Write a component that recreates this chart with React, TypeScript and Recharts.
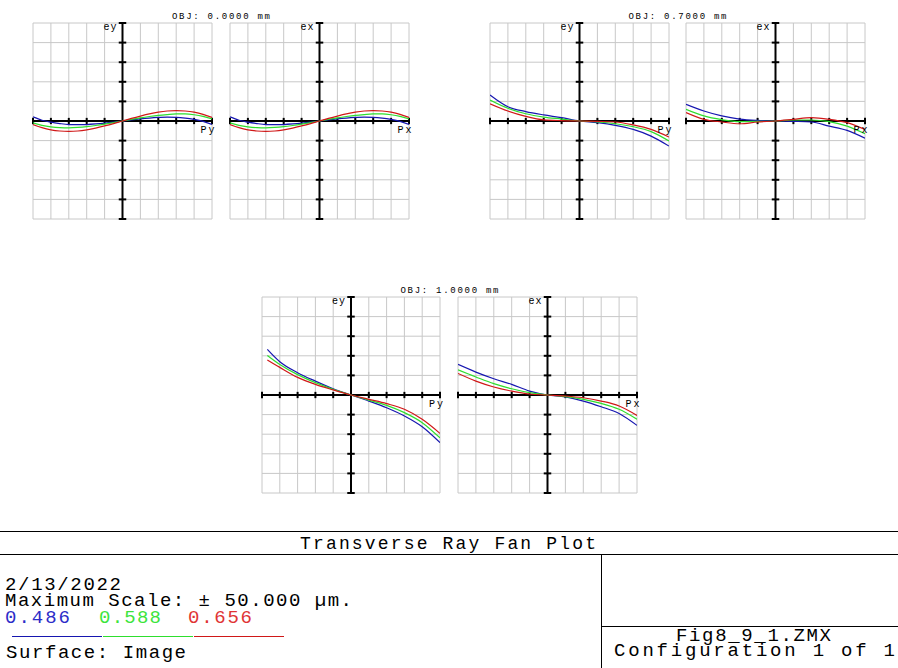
import React from "react";
import { LineChart, Line, XAxis, YAxis, CartesianGrid, ReferenceLine } from "recharts";

// ---------- data (µm transverse aberration vs normalized pupil coordinate) ----------
const pupilFine = [-1, -0.9, -0.8, -0.7, -0.6, -0.5, -0.4, -0.3, -0.2, -0.1, 0, 0.1, 0.2, 0.3, 0.4, 0.5, 0.6, 0.7, 0.8, 0.9, 1];
const pupilCoarse = [-1, -0.8, -0.6, -0.4, -0.2, 0, 0.2, 0.4, 0.6, 0.8, 1];
const pupilVignetted = [-0.94, -0.8, -0.6, -0.4, -0.2, 0, 0.2, 0.4, 0.6, 0.8, 1];

// OBJ 0.0000 mm (tangential and sagittal identical on axis)
const obj0Blue = [2.1, 0.4, -0.6, -1.3, -1.8, -1.9, -1.8, -1.5, -1.1, -0.6, 0, 0.6, 1.1, 1.5, 1.8, 2.0, 1.9, 1.5, 0.8, -0.2, -1.7];
const obj0Green = [-0.9, -2.2, -3.0, -3.4, -3.5, -3.3, -2.9, -2.3, -1.6, -0.8, 0, 0.8, 1.6, 2.3, 2.9, 3.3, 3.6, 3.6, 3.2, 2.4, 1.1];
const obj0Red = [-1.8, -3.4, -4.5, -5.1, -5.3, -5.1, -4.5, -3.6, -2.5, -1.3, 0, 1.3, 2.5, 3.6, 4.5, 5.1, 5.3, 5.1, 4.5, 3.4, 1.8];

// OBJ 0.7000 mm
const obj07TanBlue = [13.3, 7.3, 4.8, 3.1, 1.7, 0, -0.85, -2.2, -4.3, -7.7, -12.8];
const obj07TanGreen = [10.7, 6.5, 3.7, 2.0, 1.0, 0, -0.5, -1.4, -2.9, -5.4, -10.2];
const obj07TanRed = [8.8, 5.1, 2.4, 0.6, 0.2, 0, -0.2, -0.5, -2.0, -4.3, -8.2];
const obj07SagBlue = [8.5, 5.1, 2.6, 1.0, 0.3, 0, -0.2, -0.5, -2.6, -4.8, -8.8];
const obj07SagGreen = [6.0, 2.6, 0.7, -0.3, -0.2, 0, 0.5, 0.5, -0.3, -2.6, -6.5];
const obj07SagRed = [4.3, 0.85, -0.5, -1.4, -0.5, 0, 0.85, 1.7, 0.85, -0.85, -4.3];

// OBJ 1.0000 mm
const obj10TanBlue = [23.3, 17.0, 11.4, 7.1, 3.2, 0, -3.1, -6.5, -10.7, -16.2, -24.3];
const obj10TanGreen = [20.2, 15.6, 10.4, 6.3, 2.9, 0, -2.6, -5.3, -9.0, -14.1, -21.9];
const obj10TanRed = [17.9, 14.1, 9.0, 5.4, 2.6, 0, -2.2, -4.4, -7.3, -12.4, -19.6];
const obj10SagBlue = [15.6, 11.7, 8.3, 5.4, 2.0, 0, -1.0, -3.1, -6.0, -9.4, -15.5];
const obj10SagGreen = [12.8, 9.2, 5.8, 3.2, 1.2, 0, -0.85, -2.2, -4.3, -7.3, -12.4];
const obj10SagRed = [11.0, 7.1, 4.1, 2.0, 0.5, 0, -0.5, -1.4, -3.1, -5.6, -10.4];

const gridX = [-1, -0.8, -0.6, -0.4, -0.2, 0, 0.2, 0.4, 0.6, 0.8, 1];
const gridY = [-50, -40, -30, -20, -10, 0, 10, 20, 30, 40, 50];

const wavelengths = ["0.486", "0.588", "0.656"];
const fieldTitles = ["OBJ: 0.0000 mm", "OBJ: 0.7000 mm", "OBJ: 1.0000 mm"];

// ---------- styling ----------
const BLUE = "#1616b0";
const GREEN = "#2ede2e";
const RED = "#d01818";
const LEGEND_COLORS = ["#2c2cc8", "#3ce43c", "#e03434"];
const FONT = "'Liberation Mono', 'Courier New', monospace";

type PanelCfg = {
  left: number; top: number; w: number; h: number;
  pupil: number[]; blue: number[]; green: number[]; red: number[];
  yLabel: string; xLabel: string;
};

const panels: PanelCfg[] = [
  { left: 33, top: 23, w: 179, h: 196, pupil: pupilFine, blue: obj0Blue, green: obj0Green, red: obj0Red, yLabel: "ey", xLabel: "Py" },
  { left: 230, top: 23, w: 179, h: 196, pupil: pupilFine, blue: obj0Blue, green: obj0Green, red: obj0Red, yLabel: "ex", xLabel: "Px" },
  { left: 490, top: 23, w: 179, h: 196, pupil: pupilCoarse, blue: obj07TanBlue, green: obj07TanGreen, red: obj07TanRed, yLabel: "ey", xLabel: "Py" },
  { left: 686, top: 23, w: 179, h: 196, pupil: pupilCoarse, blue: obj07SagBlue, green: obj07SagGreen, red: obj07SagRed, yLabel: "ex", xLabel: "Px" },
  { left: 262, top: 297, w: 178, h: 196, pupil: pupilVignetted, blue: obj10TanBlue, green: obj10TanGreen, red: obj10TanRed, yLabel: "ey", xLabel: "Py" },
  { left: 458, top: 297, w: 179, h: 196, pupil: pupilCoarse, blue: obj10SagBlue, green: obj10SagGreen, red: obj10SagRed, yLabel: "ex", xLabel: "Px" },
];

function FanPlot({ cfg }: { cfg: PanelCfg }) {
  const data = cfg.pupil.map((p, i) => ({ p, b: cfg.blue[i], g: cfg.green[i], r: cfg.red[i] }));
  const tickHalfY = 1.6; // µm (~3px)
  const tickHalfX = 0.042; // pupil units (~4px)
  return (
    <div style={{ position: "absolute", left: cfg.left - 1, top: cfg.top - 1 }}>
      <LineChart width={cfg.w + 2} height={cfg.h + 2} data={data} margin={{ top: 1, right: 1, bottom: 1, left: 1 }}>
        <CartesianGrid stroke="#c8c8c8" strokeWidth={1} />
        <XAxis type="number" dataKey="p" domain={[-1, 1]} ticks={gridX} interval={0} hide allowDataOverflow />
        <YAxis type="number" domain={[-50, 50]} ticks={gridY} interval={0} hide allowDataOverflow />
        <ReferenceLine x={0} stroke="#000" strokeWidth={2} />
        <ReferenceLine y={0} stroke="#000" strokeWidth={2} />
        {gridX.filter((t) => t !== 0).map((t) => (
          <ReferenceLine key={"tx" + t} segment={[{ x: t, y: tickHalfY }, { x: t, y: -tickHalfY }]} stroke="#000" strokeWidth={2} ifOverflow="visible" />
        ))}
        {gridY.filter((t) => t !== 0).map((t) => (
          <ReferenceLine key={"ty" + t} segment={[{ x: -tickHalfX, y: t }, { x: tickHalfX, y: t }]} stroke="#000" strokeWidth={2} ifOverflow="visible" />
        ))}
        <Line type="monotone" dataKey="b" stroke={BLUE} strokeWidth={1.2} dot={false} isAnimationActive={false} />
        <Line type="monotone" dataKey="g" stroke={GREEN} strokeWidth={1.2} dot={false} isAnimationActive={false} />
        <Line type="monotone" dataKey="r" stroke={RED} strokeWidth={1.2} dot={false} isAnimationActive={false} />
      </LineChart>
    </div>
  );
}

export default function App() {
  const titleCenters = [
    (panels[0].left + panels[1].left + panels[1].w) / 2,
    (panels[2].left + panels[3].left + panels[3].w) / 2,
    (panels[4].left + panels[5].left + panels[5].w) / 2,
  ];
  const titleBaselines = [19, 19, 293];
  const big = 19;
  return (
    <div style={{ position: "absolute", left: 0, top: 0, width: 898, height: 668, background: "#fff", overflow: "hidden" }}>
      {panels.map((cfg, i) => (
        <FanPlot key={i} cfg={cfg} />
      ))}
      <svg width={898} height={668} style={{ position: "absolute", left: 0, top: 0, pointerEvents: "none" }} fontFamily={FONT}>
        {fieldTitles.map((t, i) => (
          <text key={t} x={titleCenters[i]} y={titleBaselines[i]} textAnchor="middle" fontSize={9} textLength={98} lengthAdjust="spacing" fill="#000">
            {t}
          </text>
        ))}
        {panels.map((cfg, i) => {
          const cx = cfg.left + cfg.w / 2;
          const cy = cfg.top + cfg.h / 2;
          return (
            <g key={"lab" + i}>
              <text x={cx - 19} y={cy - cfg.h / 2 + 7} fontSize={10} textLength={13} lengthAdjust="spacing" fill="#000">{cfg.yLabel}</text>
              <text x={cx + 78} y={cy + 12} fontSize={10} textLength={14} lengthAdjust="spacing" fill="#000">{cfg.xLabel}</text>
            </g>
          );
        })}
        {/* bottom info block */}
        <line x1={0} x2={898} y1={531.5} y2={531.5} stroke="#000" strokeWidth={1} />
        <line x1={0} x2={898} y1={554.5} y2={554.5} stroke="#000" strokeWidth={1} />
        <line x1={601.5} x2={601.5} y1={554} y2={668} stroke="#000" strokeWidth={1} />
        <line x1={601} x2={898} y1={626.5} y2={626.5} stroke="#000" strokeWidth={1} />
        <text x={300} y={549} fontSize={18} textLength={296} lengthAdjust="spacing" fill="#000">Transverse Ray Fan Plot</text>
        <text x={5} y={590} fontSize={big} textLength={116} lengthAdjust="spacing" fill="#000">2/13/2022</text>
        <text x={5} y={606} fontSize={big} textLength={347} lengthAdjust="spacing" fill="#000">Maximum Scale: ± 50.000 µm.</text>
        <text x={5} y={623} fontSize={big} textLength={65} lengthAdjust="spacing" fill={LEGEND_COLORS[0]}>{wavelengths[0]}</text>
        <text x={99} y={623} fontSize={big} textLength={62} lengthAdjust="spacing" fill={LEGEND_COLORS[1]}>{wavelengths[1]}</text>
        <text x={188} y={623} fontSize={big} textLength={64} lengthAdjust="spacing" fill={LEGEND_COLORS[2]}>{wavelengths[2]}</text>
        <line x1={12} x2={102} y1={636.5} y2={636.5} stroke={BLUE} strokeWidth={1} />
        <line x1={103} x2={193} y1={636.5} y2={636.5} stroke={GREEN} strokeWidth={1} />
        <line x1={194} x2={284} y1={636.5} y2={636.5} stroke={RED} strokeWidth={1} />
        <text x={6} y={658} fontSize={big} textLength={180} lengthAdjust="spacing" fill="#000">Surface: Image</text>
        <text x={676} y={641} fontSize={big} textLength={155} lengthAdjust="spacing" fill="#000">Fig8_9_1.ZMX</text>
        <text x={614} y={655.5} fontSize={big} textLength={281} lengthAdjust="spacing" fill="#000">Configuration 1 of 1</text>
      </svg>
    </div>
  );
}
